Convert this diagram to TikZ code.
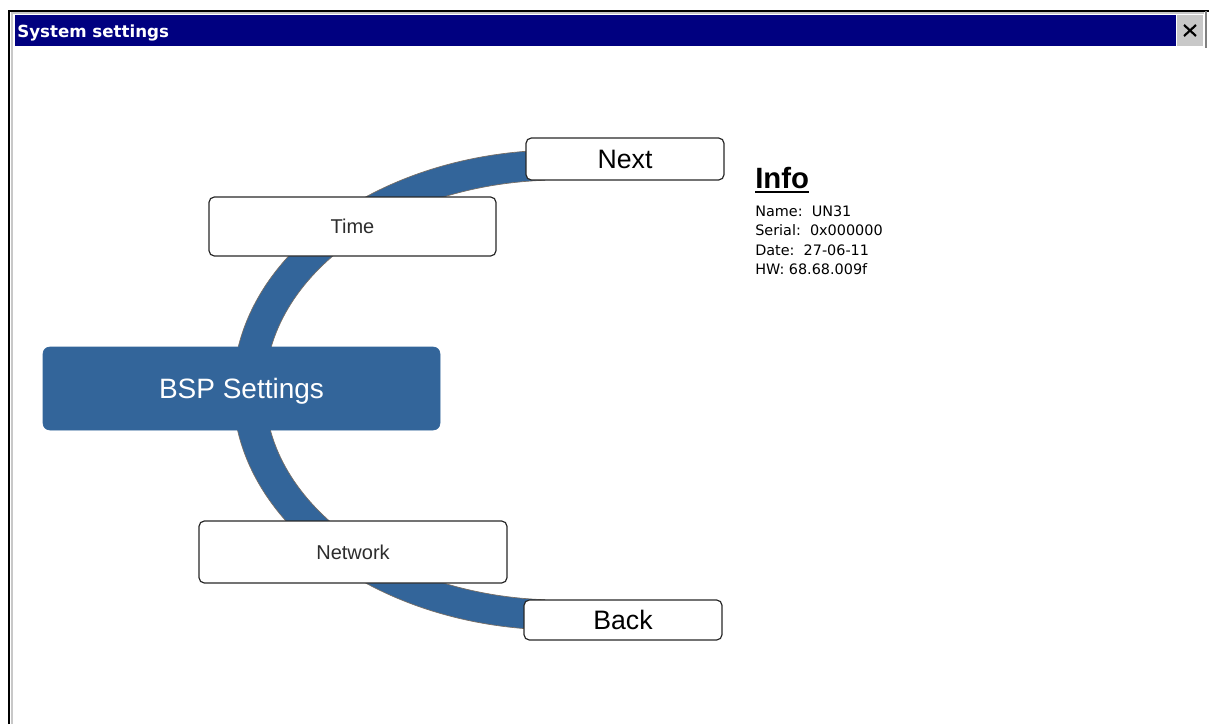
\documentclass[tikz,border=0pt]{standalone}
\usepackage{fontspec}
\setmainfont{Liberation Sans}
\newfontfamily\winfont{DejaVu Sans}
\usetikzlibrary{positioning}
\definecolor{titleblue}{RGB}{0,0,128}
\definecolor{bandblue}{RGB}{51,101,154}
\definecolor{bandedge}{RGB}{120,110,100}
\definecolor{btngray}{RGB}{200,200,200}
\definecolor{btnedge}{RGB}{40,40,40}
\tikzset{font=\small}
\tikzset{
  navbtn/.style={draw=btnedge, line width=0.9pt, fill=white, rounded corners=4pt,
    inner sep=0pt, outer sep=0pt, font=\fontsize{20}{22}\selectfont},
  menubtn/.style={navbtn, text={rgb,255:red,45;green,45;blue,45}, font=\fontsize{15}{17}\selectfont},
  activebtn/.style={fill=bandblue, draw=bandblue, rounded corners=5pt, inner sep=0pt,
    text=white, text depth=0pt, font=\fontsize{21}{23}\selectfont},
  details/.style={inner sep=0pt, font=\winfont\fontsize{10.8}{13}\selectfont}
}

\begin{document}
\begin{tikzpicture}[x=0.75pt,y=-0.75pt]
  \useasboundingbox (0,0) rectangle (1209,724);

  % window frame and title bar
  \draw[line width=1.5pt] (9,724)--(9,11)--(1209,11);
  \draw[btngray, line width=1.5pt] (12,724)--(12,13.5)--(1204,13.5);
  \draw[gray, line width=1pt] (1206,11)--(1206,48);
  \fill[titleblue] (15,15) rectangle (1176,46);
  \node[anchor=base west, inner sep=0pt, text=white,
        font=\winfont\bfseries\fontsize{12.5}{14}\selectfont] (title) at (17,38) {System settings};
  \node[fill=btngray, minimum width=19.5pt, minimum height=23.25pt, inner sep=0pt] (close) at (1190,30.5) {};
  \draw[line width=1.6pt] ([shift={(-6,-5.5)}]close.center)--([shift={(6,5.5)}]close.center);
  \draw[line width=1.6pt] ([shift={(-6,5.5)}]close.center)--([shift={(6,-5.5)}]close.center);

  % the band behind the menu
  \begin{scope}
    \clip (0,0) rectangle (545,724);
    \filldraw[fill=bandblue, draw=bandedge, line width=0.5pt, even odd rule]
      (560,390) ellipse [x radius=327, y radius=240]
      (560,390) ellipse [x radius=295, y radius=210];
  \end{scope}

  \node[navbtn, minimum width=148.5pt, minimum height=31.5pt] (next) at (625,159) {Next};
  \node[navbtn, minimum width=148.5pt, minimum height=30pt] (back) at (623,620) {Back};
  \node[menubtn, minimum width=215.25pt, minimum height=44.25pt] (time) at (352.5,226.5) {Time};
  \node[menubtn, minimum width=231pt, minimum height=46.5pt] (network) at (353,552) {Network};
  \node[activebtn, minimum width=297.75pt, minimum height=62.25pt] (bsp) at (241.5,388.5) {BSP Settings};

  % info block
  \node[anchor=base west, inner sep=0pt, font=\bfseries\fontsize{22}{24}\selectfont] (info) at (755,188) {Info};
  \draw[line width=1.5pt] ([yshift=-3.2pt]info.base west)--([yshift=-3.2pt]info.base east);
  \foreach \txt [count=\i] in {{Name:\ \ UN31},{Serial:\ \ 0x000000},{Date:\ \ 27-06-11},{HW: 68.68.009f}}{
    \node[details, anchor=base west] (info\i) at (755,{196.5+19.5*\i}) {\txt};
  }
\end{tikzpicture}
\end{document}
